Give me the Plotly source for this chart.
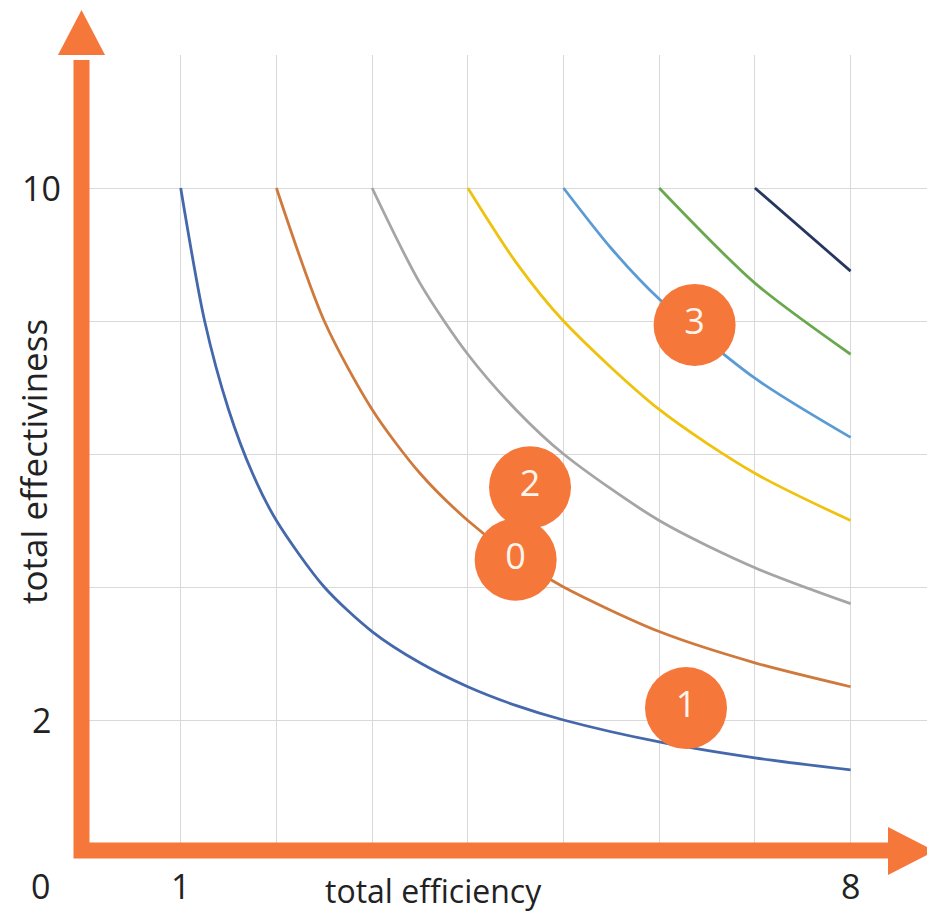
import plotly.graph_objects as go

# curves (x, y pairs per series)
blue_x = [1, 1.25, 1.5, 1.75, 2, 2.5, 3, 3.5, 4, 4.5, 5, 6, 7, 8]
blue_y = [10, 8, 6.67, 5.71, 5, 4, 3.33, 2.86, 2.5, 2.22, 2, 1.67, 1.43, 1.25]
orange_x = [2, 2.5, 3, 3.5, 4, 4.5, 5, 6, 7, 8]
orange_y = [10, 8, 6.67, 5.71, 5, 4.44, 4, 3.33, 2.86, 2.5]
gray_x = [3, 3.5, 4, 4.5, 5, 6, 7, 8]
gray_y = [10, 8.57, 7.5, 6.67, 6, 5, 4.29, 3.75]
yellow_x = [4, 4.5, 5, 6, 7, 8]
yellow_y = [10, 8.89, 8, 6.67, 5.71, 5]
lightblue_x = [5, 5.5, 6, 7, 8]
lightblue_y = [10, 9.09, 8.33, 7.14, 6.25]
green_x = [6, 7, 8]
green_y = [10, 8.57, 7.5]
navy_x = [7, 8]
navy_y = [10, 8.75]

# numbered badges
badge_text = ['3', '2', '0', '1']
badge_x = [6.37, 4.65, 4.50, 6.28]
badge_y = [7.94, 5.50, 4.41, 2.18]

# tick labels
x_tick_vals = [1, 8]
x_tick_text = ['1', '8']
y_tick_vals = [10, 2]
y_tick_text = ['10', '2']

ORANGE = '#f5773a'
FONT = 'Open Sans'
OFF = 8  # page body margin
W, H = 935 - OFF, 920 - OFF
L, R, T, B = 85 - OFF, 0, 55 - OFF, 920 - 853
X_MAX = (W - L - R) / 95.7


# page pixel -> paper coords
def px(p):
    return (p - OFF - L) / (W - L - R)


def py(p):
    return (H - B - (p - OFF)) / (H - T - B)


series = [
    (blue_x, blue_y, '#4468ab'),
    (orange_x, orange_y, '#cf7a3c'),
    (gray_x, gray_y, '#a5a5a5'),
    (yellow_x, yellow_y, '#efc20e'),
    (lightblue_x, lightblue_y, '#5b9bd5'),
    (green_x, green_y, '#6aa84f'),
    (navy_x, navy_y, '#26375f'),
]

fig = go.Figure()
for xs, ys, col in series:
    fig.add_trace(go.Scatter(x=xs, y=ys, mode='lines',
                             line=dict(color=col, width=2.8, shape='spline', smoothing=0.8),
                             hoverinfo='skip', showlegend=False))

fig.add_trace(go.Scatter(
    x=badge_x, y=badge_y, mode='markers+text', text=badge_text,
    marker=dict(size=82, color=ORANGE, line=dict(width=0)),
    textfont=dict(family=FONT, size=36, color='#fff4ec'),
    textposition='middle center', hoverinfo='skip', showlegend=False))

# orange axis arrows
shapes = [
    dict(type='path', xref='paper', yref='paper',
         path=f'M {px(81.5)},{py(60)} L {px(81.5)},{py(850.5)} L {px(890)},{py(850.5)}',
         line=dict(color=ORANGE, width=16)),
    dict(type='path', xref='paper', yref='paper',
         path=f'M {px(58)},{py(55)} L {px(105)},{py(55)} L {px(81.5)},{py(10)} Z',
         fillcolor=ORANGE, line=dict(width=0)),
    dict(type='path', xref='paper', yref='paper',
         path=f'M {px(888)},{py(827)} L {px(888)},{py(875)} L {px(935)},{py(851)} Z',
         fillcolor=ORANGE, line=dict(width=0)),
]

annotations = []
for v, t in zip(x_tick_vals, x_tick_text):
    annotations.append(dict(x=v, y=py(886), xref='x', yref='paper', text=t, showarrow=False,
                            xanchor='center', yanchor='middle', font=dict(family=FONT, size=34, color='#222')))
for v, t in zip(y_tick_vals, y_tick_text):
    annotations.append(dict(x=px(41), y=v, xref='paper', yref='y', text=t, showarrow=False,
                            xanchor='center', yanchor='middle', font=dict(family=FONT, size=34, color='#222')))
annotations.append(dict(x=px(40), y=py(886), xref='paper', yref='paper', text='0', showarrow=False,
                        xanchor='center', yanchor='middle', font=dict(family=FONT, size=34, color='#222')))
annotations.append(dict(x=px(433), y=py(890), xref='paper', yref='paper', text='total efficiency',
                        showarrow=False, xanchor='center', yanchor='middle',
                        font=dict(family=FONT, size=32, color='#222')))
annotations.append(dict(x=px(33), y=py(462), xref='paper', yref='paper', text='total effectiviness',
                        showarrow=False, xanchor='center', yanchor='middle', textangle=-90,
                        font=dict(family=FONT, size=35, color='#222')))

fig.update_layout(
    width=W, height=H,
    margin=dict(l=L, r=R, t=T, b=B),
    plot_bgcolor='white', paper_bgcolor='white',
    shapes=shapes, annotations=annotations,
    xaxis=dict(range=[0, X_MAX], tickvals=[1, 2, 3, 4, 5, 6, 7, 8], showticklabels=False,
               showgrid=True, gridcolor='#d9d9d9', gridwidth=1, zeroline=False, showline=False,
               fixedrange=True),
    yaxis=dict(range=[0, 12], tickvals=[2, 4, 6, 8, 10, 12], showticklabels=False,
               showgrid=True, gridcolor='#d9d9d9', gridwidth=1, zeroline=False, showline=False,
               fixedrange=True),
)

fig.write_html('out.html', config={'displayModeBar': False})
